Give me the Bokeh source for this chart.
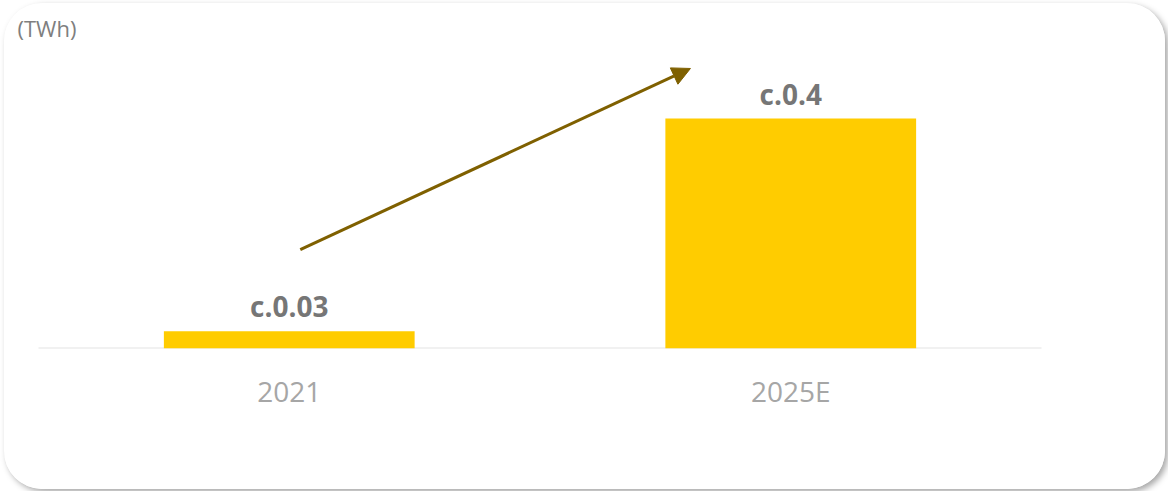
from bokeh.plotting import figure
from bokeh.models import ColumnDataSource, Range1d, FixedTicker, Label, Arrow, NormalHead
from bokeh.embed import file_html
from bokeh.resources import INLINE
from bokeh.core.properties import value

# ---- data ----
categories = ["2021", "2025E"]
values = [0.03, 0.4]
value_labels = ["c.0.03", "c.0.4"]
unit_label = "(TWh)"

n = len(categories)
xs = [i + 0.5 for i in range(n)]
src = ColumnDataSource(dict(x=xs, top=values, lab=value_labels))

# layout: category band = 501.5 px; left pad 34 px, right pad 124 px
BAND = 501.5
X_START = -34 / BAND
X_END = n + 124 / BAND
Y_END = 0.6

p = figure(width=1161, height=486, output_backend="svg", toolbar_location=None,
           x_range=Range1d(X_START, X_END), y_range=Range1d(0, Y_END),
           min_border_left=0, min_border_right=0, min_border_top=0,
           min_border_bottom=141)
p.outline_line_color = None
p.grid.visible = False
p.yaxis.visible = False
p.background_fill_color = "white"
p.border_fill_color = "white"

# baseline across the category bands
p.segment(x0=[0], y0=[0], x1=[n], y1=[0], line_color="#E3E3E3", line_width=2)

p.vbar(x="x", top="top", bottom=0, width=0.5, source=src,
       fill_color="#FFCC00", line_color=None)

p.text(x="x", y="top", text="lab", source=src, text_align="center",
       text_baseline="middle", y_offset=-25, text_color="#767676",
       text_font=value("Open Sans"), text_font_style="bold",
       text_font_size="28px")

ax = p.xaxis[0]
ax.ticker = FixedTicker(ticks=xs)
ax.major_label_overrides = {x: c for x, c in zip(xs, categories)}
ax.axis_line_color = None
ax.major_tick_line_color = None
ax.minor_tick_line_color = None
ax.major_tick_out = 0
ax.major_tick_in = 0
ax.major_label_standoff = 23
ax.major_label_text_color = "#A6A6A6"
ax.major_label_text_font = "Open Sans"
ax.major_label_text_font_size = "28px"

p.add_layout(Label(x=X_START, y=Y_END, x_offset=13, y_offset=-9, text=unit_label,
                   text_baseline="top", text_color="#7F7F7F",
                   text_font="Open Sans", text_font_size="22px"))

p.add_layout(Arrow(x_start=xs[0] + 0.022, y_start=0.172,
                   x_end=xs[1] - 0.2, y_end=0.487,
                   line_color="#7F6000", line_width=3,
                   end=NormalHead(size=18, fill_color="#7F6000",
                                  line_color="#7F6000")))

p.styles = {"border-radius": "38px", "overflow": "hidden",
            "margin": "3px 0 0 4px",
            "box-shadow": "3px 3px 6px rgba(0,0,0,0.35)"}

open("out.html", "w").write(file_html(p, INLINE))
